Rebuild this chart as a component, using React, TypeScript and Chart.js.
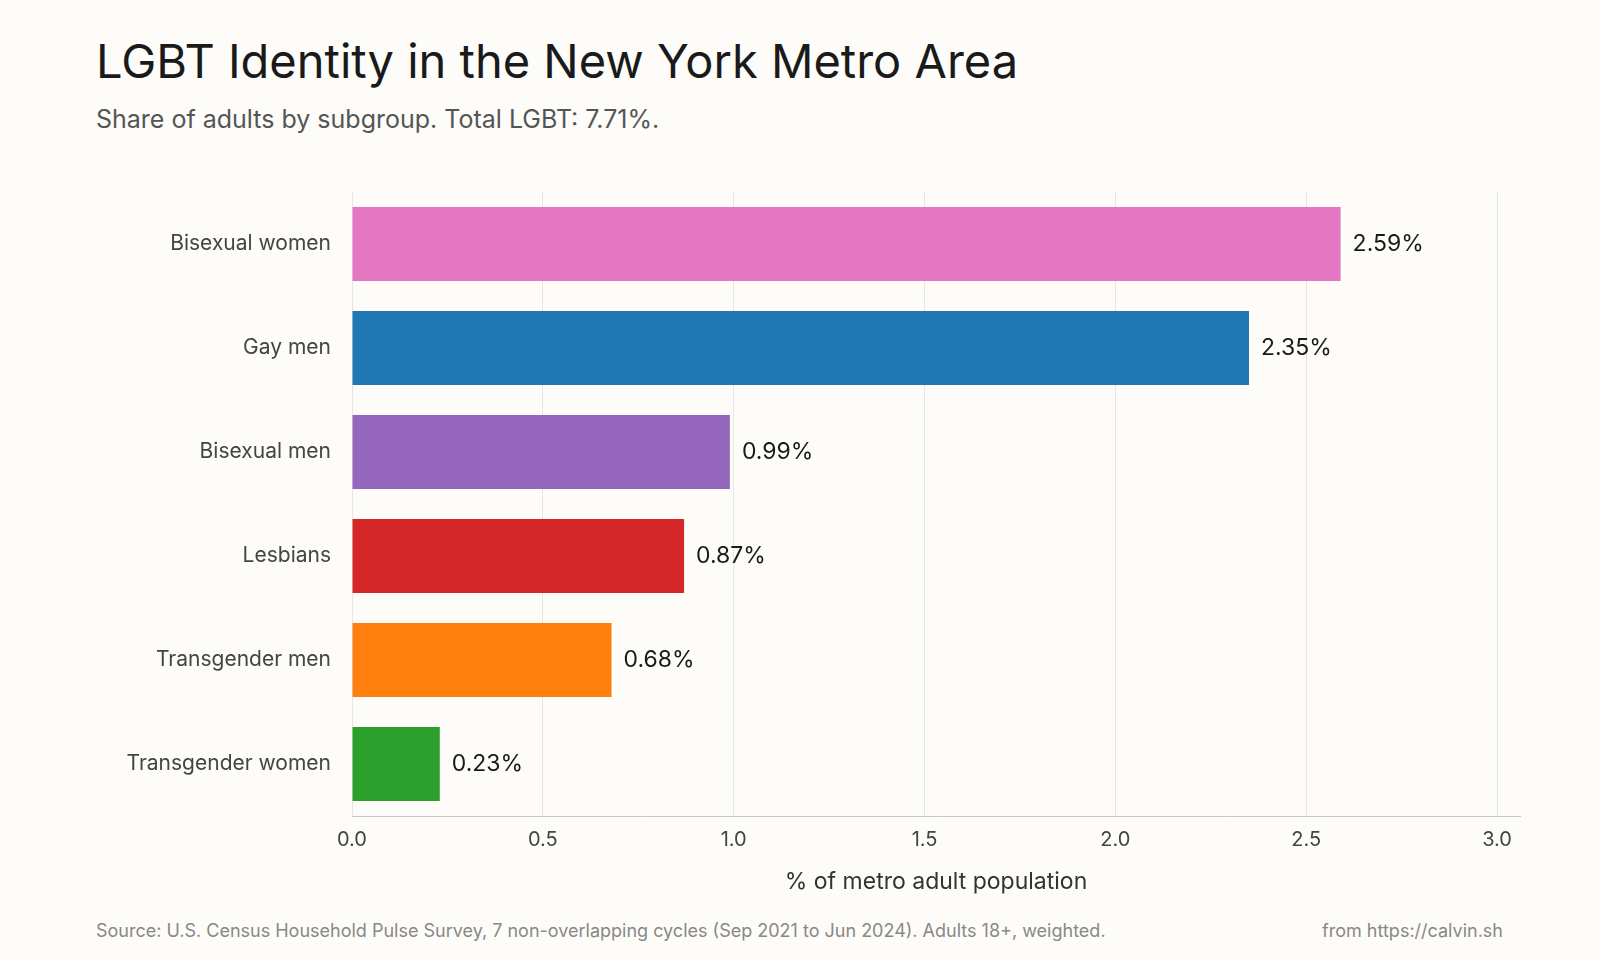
import { useEffect, useRef } from "react";
import { Chart, registerables } from "chart.js";

Chart.register(...registerables);

const categories = ["Bisexual women", "Gay men", "Bisexual men", "Lesbians", "Transgender men", "Transgender women"];
const values = [2.59, 2.35, 0.99, 0.87, 0.68, 0.23];
const barColors = ["#e377c2", "#1f77b4", "#9467bd", "#d62728", "#ff7f0e", "#2ca02c"];
const xTicks = [0, 0.5, 1, 1.5, 2, 2.5, 3];

const FONT = "Inter, 'Noto Sans', sans-serif";

const valueLabels = {
  id: "valueLabels",
  afterDatasetsDraw(chart: any) {
    const ctx = chart.ctx;
    const meta = chart.getDatasetMeta(0);
    ctx.save();
    ctx.font = `23px ${FONT}`;
    ctx.fillStyle = "#1a1a1a";
    ctx.textBaseline = "middle";
    meta.data.forEach((bar: any, i: number) => {
      ctx.fillText(values[i].toFixed(2) + "%", bar.x + 12, bar.y);
    });
    ctx.restore();
  },
};

export default function App() {
  const ref = useRef<HTMLCanvasElement>(null);
  useEffect(() => {
    if (!ref.current) return;
    const chart = new Chart(ref.current, {
      type: "bar",
      data: {
        labels: categories,
        datasets: [{ data: values, backgroundColor: barColors, barPercentage: 0.71, categoryPercentage: 1 }],
      },
      options: {
        indexAxis: "y",
        animation: false,
        responsive: false,
        layout: { padding: { top: 42, right: 80, left: 0, bottom: 0 } },
        plugins: { legend: { display: false }, tooltip: { enabled: false } },
        scales: {
          x: {
            min: 0,
            max: 3.06,
            afterBuildTicks: (s: any) => { s.ticks = xTicks.map((v) => ({ value: v })); },
            afterFit: (s: any) => { s.height = 84; },
            grid: { color: "#e6e6e6", drawTicks: false },
            border: { color: "#c8c8c8" },
            ticks: { color: "#444", font: { size: 20, family: FONT }, padding: 12, callback: (v: any) => Number(v).toFixed(1) },
            title: { display: true, text: "% of metro adult population", color: "#333", font: { size: 23, family: FONT }, padding: { top: 0 } },
          },
          y: {
            afterFit: (s: any) => { s.width = 352; },
            grid: { display: false },
            border: { display: false },
            ticks: { color: "#444", font: { size: 21, family: FONT }, padding: 13 },
          },
        },
      },
      plugins: [valueLabels],
    });
    return () => chart.destroy();
  }, []);

  return (
    <div style={{ position: "fixed", left: 0, top: 0, width: 1600, height: 960, background: "#fdfcf9", fontFamily: FONT }}>
      <div style={{ position: "absolute", left: 96, top: 32, fontSize: 47, color: "#1a1a1a" }}>LGBT Identity in the New York Metro Area</div>
      <div style={{ position: "absolute", left: 96, top: 104, fontSize: 25, color: "#555" }}>Share of adults by subgroup. Total LGBT: 7.71%.</div>
      <canvas ref={ref} width={1600} height={750} style={{ position: "absolute", left: 0, top: 150 }} />
      <div style={{ position: "absolute", left: 96, top: 920, fontSize: 18, color: "#888" }}>
        Source: U.S. Census Household Pulse Survey, 7 non-overlapping cycles (Sep 2021 to Jun 2024). Adults 18+, weighted.
      </div>
      <div style={{ position: "absolute", right: 97, top: 920, fontSize: 18, color: "#888" }}>from https://calvin.sh</div>
    </div>
  );
}
